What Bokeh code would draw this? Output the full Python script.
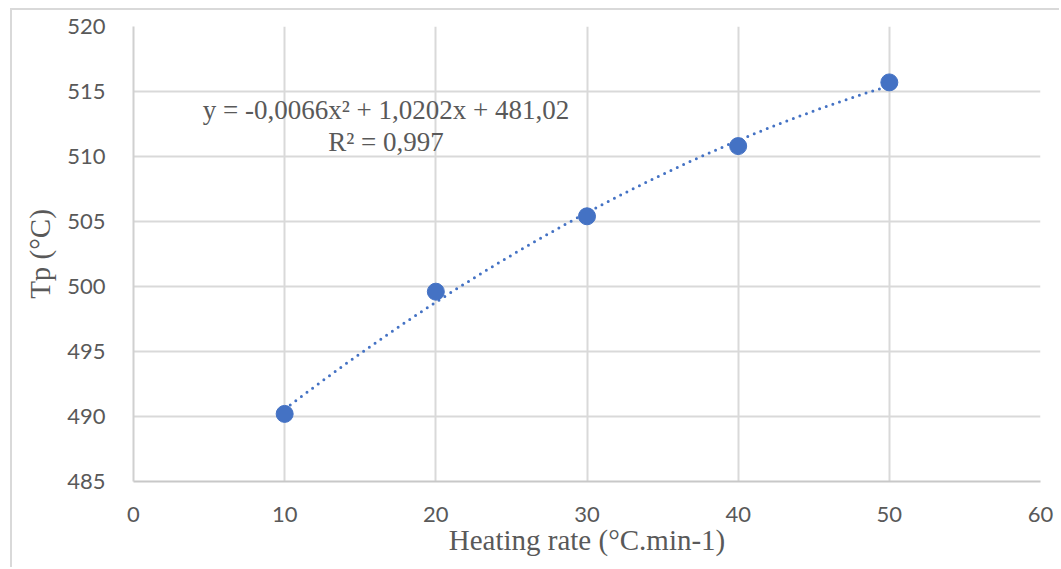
import numpy as np
from bokeh.plotting import figure
from bokeh.models import FixedTicker, ColumnDataSource
from bokeh.core.properties import value
from bokeh.embed import file_html
from bokeh.resources import INLINE

# Data
heating_rate = [10, 20, 30, 40, 50]
tp = [490.2, 499.6, 505.4, 510.8, 515.7]
x_ticks = [0, 10, 20, 30, 40, 50, 60]
y_ticks = [485, 490, 495, 500, 505, 510, 515, 520]
eq_text = ["y = -0,0066x\u00b2 + 1,0202x + 481,02", "R\u00b2 = 0,997"]
eq_x = [16.7, 16.7]
eq_y = [513.6, 511.1]

# polynomial trendline (order 2) fitted to the points
coef = np.polyfit(heating_rate, tp, 2)
tx = np.linspace(min(heating_rate), max(heating_rate), 200)
ty = np.polyval(coef, tx)

SERIF = "Liberation Serif"
SANS = "Lato"
GREY = "#595959"
BLUE = "#4472C4"

p = figure(width=1049, height=559, x_range=(0, 60), y_range=(485, 520),
           output_backend="svg", toolbar_location=None,
           min_border_left=121, min_border_right=21, min_border_top=16, min_border_bottom=88)
p.styles = {"border-left": "2px solid #d9d9d9", "border-top": "2px solid #d9d9d9",
            "margin-left": "10px", "margin-top": "8px"}
p.outline_line_color = None
p.background_fill_color = "white"

p.xaxis.ticker = FixedTicker(ticks=x_ticks)
p.yaxis.ticker = FixedTicker(ticks=y_ticks)
for ax in (p.xaxis[0], p.yaxis[0]):
    ax.major_tick_line_color = None
    ax.minor_tick_line_color = None
    ax.major_label_text_font = SANS
    ax.major_label_text_font_size = "22px"
    ax.major_label_text_color = GREY
    ax.axis_label_text_font = SERIF
    ax.axis_label_text_font_style = "normal"
    ax.axis_label_text_font_size = "29px"
    ax.axis_label_text_color = GREY
p.xaxis.axis_line_color = "#c8c8c8"
p.xaxis.axis_line_width = 2
p.yaxis.axis_line_color = "#d0d0d0"
p.yaxis.axis_line_width = 2
p.xaxis.major_label_standoff = 19
p.yaxis.major_label_standoff = 22
p.xaxis.axis_label = "Heating rate (\u00b0C.min-1)"
p.yaxis.axis_label = "Tp (\u00b0C)"
p.xaxis.axis_label_standoff = -1
p.yaxis.axis_label_standoff = 8

p.xgrid.grid_line_color = "#d9d9d9"
p.ygrid.grid_line_color = "#d9d9d9"
p.xgrid.grid_line_width = 2
p.ygrid.grid_line_width = 2

p.line(tx, ty, line_color=BLUE, line_width=3, line_dash="0 7", line_cap="round")
p.scatter(heating_rate, tp, size=17, fill_color=BLUE, line_color=BLUE)

src = ColumnDataSource(dict(x=eq_x, y=eq_y, t=eq_text))
p.text(x="x", y="y", text="t", source=src, text_font=value(SERIF), text_font_size="27px",
       text_color=GREY, text_align="center", text_baseline="middle")

open("out.html", "w").write(file_html(p, INLINE))
